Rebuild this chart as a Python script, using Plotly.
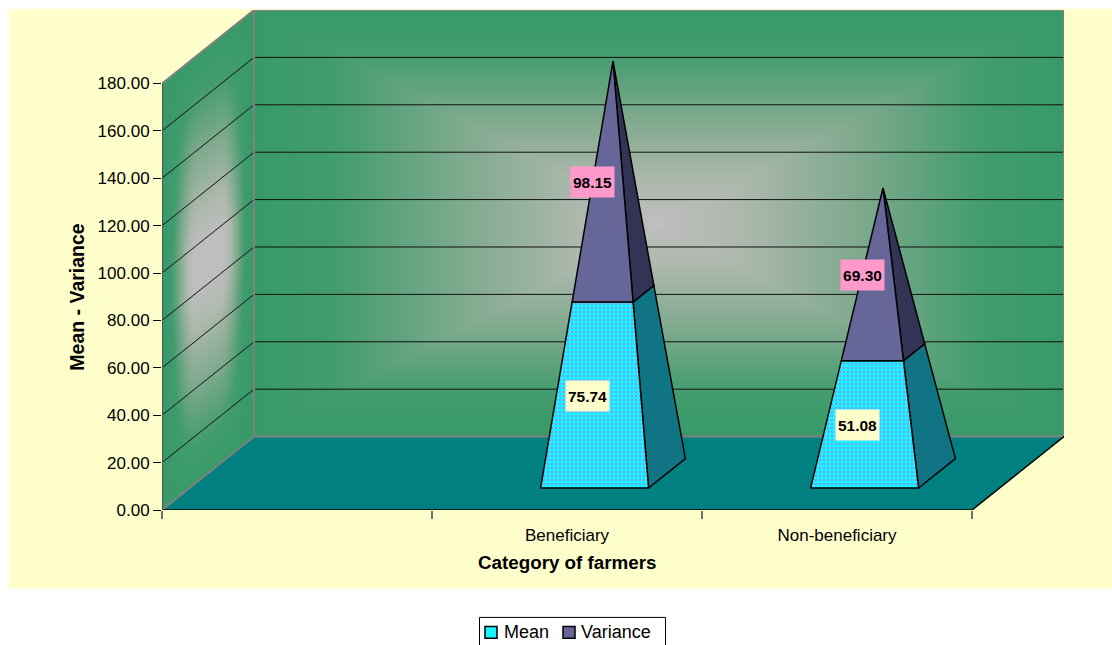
import numpy as np
import plotly.graph_objects as go

# Chart data
categories = ["", "Beneficiary", "Non-beneficiary"]
mean_values = [None, 75.74, 51.08]
variance_values = [None, 98.15, 69.30]
tick_values = [0, 20, 40, 60, 80, 100, 120, 140, 160, 180]

# Oblique projection of the chart box: depth expressed in category bands and value units
W, H = 1112, 645
BOX_L, BOX_R, BOX_T, BOX_B = 162, 1064, 10, 510.5
PX_PER_BAND = 270.0
PX_PER_UNIT = 427.0 / 180.0
DEPTH_X = 92.0 / PX_PER_BAND
DEPTH_Y = 73.5 / PX_PER_UNIT
Y_MAX = 180.0
N_BANDS = len(categories)
BAR_HALF = 0.2          # half of a pyramid's base width, in bands
DEPTH_NEAR, DEPTH_FAR = 0.3, 0.7

GREEN = "#389a68"
GRAY = "#bebebe"
TEAL = "#008080"
wall_scale = [[0.0, GREEN], [0.2, "#429c6e"], [0.5, "#7da98c"], [0.8, "#adb8ad"], [1.0, GRAY]]


def project(x, value, depth):
    """Place a point of the 3-D box on the flat axes."""
    return x + depth * DEPTH_X, value + depth * DEPTH_Y


def px(xpix):
    return (xpix - BOX_L) / (BOX_R - BOX_L)


def py(ypix):
    return (BOX_B - ypix) / (BOX_B - BOX_T)


def polygon(points, fill, line="black", width=1.5, pattern=None):
    xs, ys = zip(*(points + [points[0]]))
    return go.Scatter(x=xs, y=ys, mode="lines", fill="toself", fillcolor=fill,
                      fillpattern=pattern, line=dict(color=line, width=width),
                      hoverinfo="skip", showlegend=False, cliponaxis=False)


def polyline(xs, ys, color, width):
    return go.Scatter(x=xs, y=ys, mode="lines", line=dict(color=color, width=width),
                      hoverinfo="skip", showlegend=False, cliponaxis=False)


def text_note(x, y, text, size, **kw):
    base = dict(x=x, y=y, text=text, showarrow=False, xanchor="center", yanchor="middle",
                font=dict(size=size, color="black", family="Liberation Sans"))
    base.update(kw)
    return base


fig = go.Figure()

# Back wall shading, brightest at the middle and fading toward the edges
bx = np.linspace(DEPTH_X, N_BANDS + DEPTH_X, 361)
by = np.linspace(DEPTH_Y, Y_MAX + DEPTH_Y, 241)
u = np.abs(bx - bx.mean()) / ((bx[-1] - bx[0]) / 2)
v = np.abs(by - by.mean()) / ((by[-1] - by[0]) / 2)
back_z = 1 - np.maximum.outer(v, u)
fig.add_trace(go.Heatmap(x=bx, y=by, z=back_z, zmin=0, zmax=1, colorscale=wall_scale,
                         zsmooth="best", showscale=False, hoverinfo="skip"))

# Left wall shading, sheared along the depth direction
lx = np.linspace(0, DEPTH_X, 93)
ly = np.linspace(0, Y_MAX + DEPTH_Y, 501)
du = lx / DEPTH_X
side_z = np.full((ly.size, lx.size), np.nan)
for i, yv in enumerate(ly):
    val = yv - du * DEPTH_Y
    t = np.clip((1 - np.abs(du - 0.5) / 0.5) / 0.75, 0, 1)
    fh = t * t * (3 - 2 * t)
    fv = np.clip(1 - np.abs(val - 90) / 90, 0, 1)
    z = fh * np.clip(fv * 1.1, 0, 1)
    inside = (val >= 0) & (val <= Y_MAX)
    side_z[i, inside] = z[inside]
fig.add_trace(go.Heatmap(x=lx, y=ly, z=side_z, zmin=0, zmax=1, colorscale=wall_scale,
                         showscale=False, hoverinfo="skip"))

# Floor
fig.add_trace(polygon([project(0, 0, 0), project(N_BANDS, 0, 0),
                       project(N_BANDS, 0, 1), project(0, 0, 1)], TEAL, line=TEAL, width=1))

# Gridlines running along the left wall and across the back wall
grid_x, grid_y = [], []
for tv in tick_values[1:-1]:
    for (gx, gd) in [(0, 0), (0, 1), (N_BANDS, 1)]:
        a, b = project(gx, tv, gd)
        grid_x.append(a)
        grid_y.append(b)
    grid_x.append(None)
    grid_y.append(None)
fig.add_trace(polyline(grid_x, grid_y, "#101010", 1))

# Wall outlines
corners = [(0, Y_MAX, 0), (0, Y_MAX, 1), (N_BANDS, Y_MAX, 1), (N_BANDS, 0, 1), (0, 0, 1), (0, Y_MAX, 1)]
ex, ey = zip(*(project(*c) for c in corners))
fig.add_trace(polyline(ex, ey, "#808080", 2))
ex, ey = zip(*(project(0, 0, d) for d in (0, 1)))
fig.add_trace(polyline(ex, ey, "#808080", 2))

# Floor front and right edges, and the value axis line
ex, ey = zip(*(project(*c) for c in [(0, 0, 0), (N_BANDS, 0, 0), (N_BANDS, 0, 1)]))
fig.add_trace(polyline(ex, ey, "black", 1.5))
fig.add_trace(polyline([0, 0], [0, Y_MAX], "#505050", 2))

# Pyramids: each stack shares one apex above the centre of its base
stipple_front = dict(shape=".", fgcolor="#b070f0", bgcolor="#19f4ff", size=4, solidity=0.18, fillmode="replace")
stipple_side = dict(shape=".", fgcolor="#2f5f80", bgcolor="#0b7785", size=4, solidity=0.15, fillmode="replace")


def lerp(a, b, t):
    return a[0] + (b[0] - a[0]) * t, a[1] + (b[1] - a[1]) * t


annotations = []
for i, (mean, variance) in enumerate(zip(mean_values, variance_values)):
    if mean is None:
        continue
    c = i + 0.5
    total = mean + variance
    fl = project(c - BAR_HALF, 0, DEPTH_NEAR)
    fr = project(c + BAR_HALF, 0, DEPTH_NEAR)
    br = project(c + BAR_HALF, 0, DEPTH_FAR)
    apex = project(c, total, 0.5)
    s = mean / total
    jl, jr, jb = lerp(fl, apex, s), lerp(fr, apex, s), lerp(br, apex, s)

    fig.add_trace(polygon([fr, br, jb, jr], "#0b7785", pattern=stipple_side))
    fig.add_trace(polygon([fl, fr, jr, jl], "#19f4ff", pattern=stipple_front))
    fig.add_trace(polygon([jr, jb, apex], "#333355"))
    fig.add_trace(polygon([jl, jr, apex], "#666699"))

    mx, my = project(c, mean / 2, DEPTH_NEAR)
    annotations.append(text_note(mx, my, f"<b>{mean:.2f}</b>", 15.5, xref="x", yref="y",
                                 xshift=-7, yshift=2, bgcolor="#ffffcc", width=41, height=28))
    vx, vy = project(c, mean + variance / 2, DEPTH_NEAR)
    annotations.append(text_note(vx, vy, f"<b>{variance:.2f}</b>", 15.5, xref="x", yref="y",
                                 xshift=-2, yshift=10, bgcolor="#ff99cc", width=41, height=28))

# Axis titles
annotations.append(text_note(px(567), py(563), "<b>Category of farmers</b>", 18.8, xref="paper", yref="paper"))
annotations.append(text_note(px(77), py(297), "<b>Mean - Variance</b>", 19.5, xref="paper", yref="paper",
                             textangle=-90))

# Legend box
shapes = [
    dict(type="rect", xref="paper", yref="paper", x0=px(9), x1=px(1112), y0=py(9), y1=py(589),
         fillcolor="#ffffcc", line_width=0, layer="below"),
    dict(type="rect", xref="paper", yref="paper", x0=px(479.5), x1=px(665.5), y0=py(618), y1=py(652),
         fillcolor="white", line=dict(color="black", width=1)),
    dict(type="rect", xref="paper", yref="paper", x0=px(485), x1=px(497), y0=py(627), y1=py(639),
         fillcolor="#19f4ff", line=dict(color="black", width=1.5)),
    dict(type="rect", xref="paper", yref="paper", x0=px(563), x1=px(575), y0=py(627), y1=py(639),
         fillcolor="#666699", line=dict(color="black", width=1.5)),
]
for label, lx_pix in [("Mean", 502), ("Variance", 579)]:
    annotations.append(text_note(px(lx_pix), py(633), label, 18, xref="paper", yref="paper", xanchor="left"))

fig.update_layout(
    width=W, height=H, autosize=False,
    margin=dict(l=BOX_L, r=W - BOX_R, t=BOX_T, b=H - BOX_B, pad=0),
    paper_bgcolor="white", plot_bgcolor="rgba(0,0,0,0)",
    showlegend=False, shapes=shapes, annotations=annotations,
    font=dict(family="Liberation Sans", color="black"),
    xaxis=dict(range=[0, N_BANDS + DEPTH_X], showgrid=False, zeroline=False, showline=False,
               tickmode="array", tickvals=[i + 0.5 for i, n in enumerate(categories) if n],
               ticktext=[n for n in categories if n], ticks="outside", ticklen=10,
               tickcolor="rgba(0,0,0,0)", tickfont=dict(size=17, color="black"),
               minor=dict(tickmode="array", tickvals=list(range(N_BANDS + 1)), ticks="outside",
                          ticklen=8, tickcolor="#707070", tickwidth=1.5)),
    yaxis=dict(range=[0, Y_MAX + DEPTH_Y], showgrid=False, zeroline=False, showline=False,
               tickmode="array", tickvals=tick_values, ticktext=[f"{t:.2f}" for t in tick_values],
               ticks="outside", ticklen=8, tickcolor="black", tickwidth=1,
               tickfont=dict(size=17, color="black")),
)

fig.write_html("out.html", config=dict(displayModeBar=False))
